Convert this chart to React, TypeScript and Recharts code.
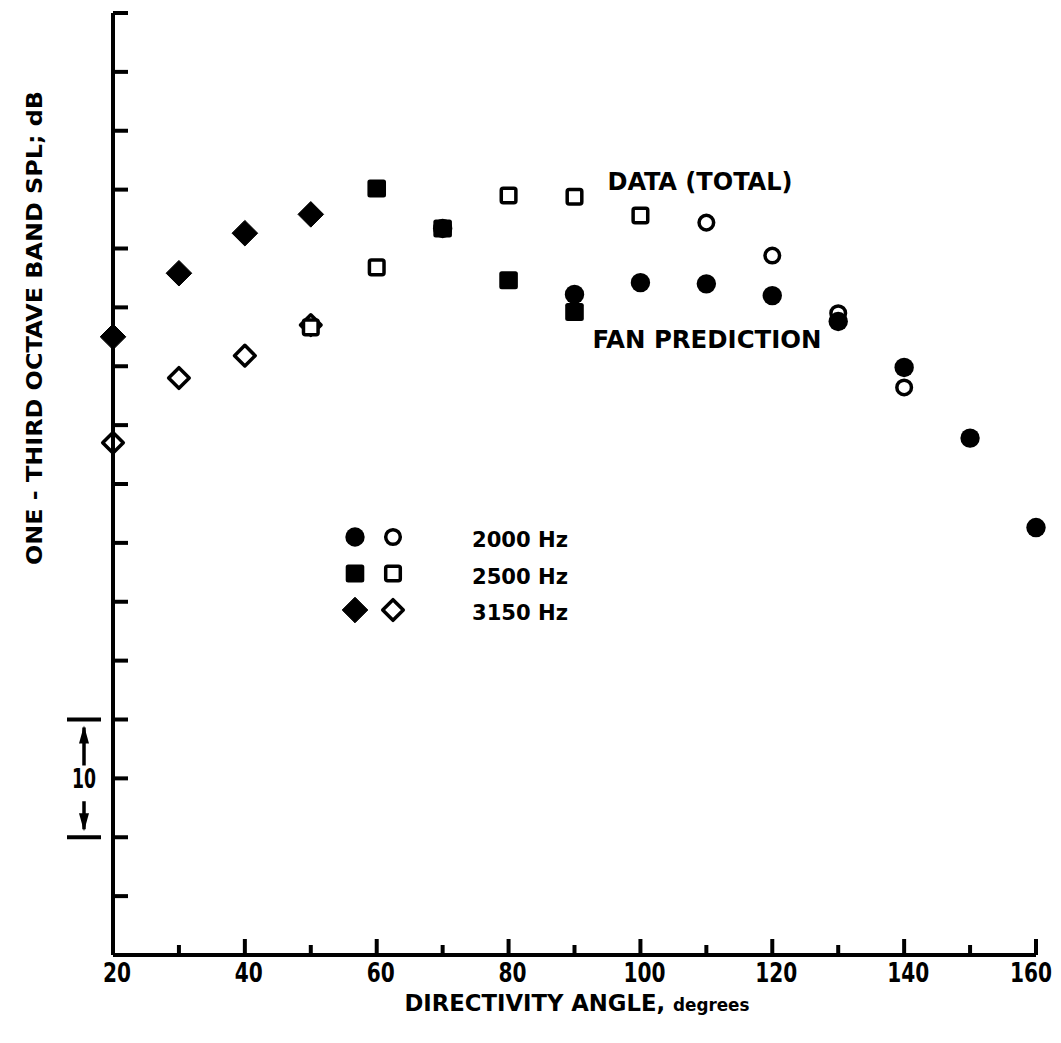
import React from 'react'
import { ScatterChart, Scatter, XAxis, YAxis } from 'recharts'

// directivity angle (deg) and one-third octave band SPL (dB, relative scale)
const fan2000Angles = [70, 90, 100, 110, 120, 130, 140, 150, 160]
const fan2000Spl = [61.7, 56.1, 57.1, 57.0, 56.0, 53.8, 49.9, 43.9, 36.3]
const data2000Angles = [110, 120, 130, 140, 150, 160]
const data2000Spl = [62.2, 59.4, 54.5, 48.2, 43.9, 36.3]

const fan2500Angles = [60, 70, 80, 90]
const fan2500Spl = [65.1, 61.7, 57.3, 54.6]
const data2500Angles = [50, 60, 80, 90, 100]
const data2500Spl = [53.3, 58.4, 64.5, 64.4, 62.8]

const fan3150Angles = [20, 30, 40, 50]
const fan3150Spl = [52.5, 57.9, 61.3, 62.9]
const data3150Angles = [20, 30, 40, 50]
const data3150Spl = [43.5, 49.0, 50.9, 53.5]

const xTicks = [20, 30, 40, 50, 60, 70, 80, 90, 100, 110, 120, 130, 140, 150, 160]
const yTicks = [0, 5, 10, 15, 20, 25, 30, 35, 40, 45, 50, 55, 60, 65, 70, 75, 80]
const legendRows = [
  { label: '2000 Hz', shape: 'circle' },
  { label: '2500 Hz', shape: 'square' },
  { label: '3150 Hz', shape: 'diamond' },
]

const W = 1061
const H = 1043
const PLOT_LEFT = 113
const PLOT_RIGHT = 1036
const PLOT_TOP = 13
const PLOT_BOTTOM = 955
const Y_MAX = 80
const FONT = '"Liberation Sans Narrow", "DejaVu Sans Condensed", "Liberation Sans", Arial, sans-serif'

const toPoints = (xs: number[], ys: number[]) => xs.map((x, i) => ({ x, y: ys[i] }))

function marker(shape: string, filled: boolean, cx: number, cy: number, key?: string) {
  const sw = 3.5
  if (shape === 'circle') {
    return filled
      ? <circle key={key} cx={cx} cy={cy} r={9.7} fill="#000" />
      : <circle key={key} cx={cx} cy={cy} r={7.3} fill="#fff" stroke="#000" strokeWidth={sw} />
  }
  if (shape === 'square') {
    return filled
      ? <rect key={key} x={cx - 9.3} y={cy - 9} width={18.6} height={18} rx={2.5} fill="#000" />
      : <rect key={key} x={cx - 7.3} y={cy - 7.3} width={14.6} height={14.6} rx={2} fill="#fff" stroke="#000" strokeWidth={sw} />
  }
  const r = filled ? 12.8 : 10.3
  const d = `M${cx},${cy - r} L${cx + r},${cy} L${cx},${cy + r} L${cx - r},${cy} Z`
  return filled
    ? <path key={key} d={d} fill="#000" strokeLinejoin="round" stroke="#000" strokeWidth={1} />
    : <path key={key} d={d} fill="none" stroke="#000" strokeWidth={sw} strokeLinejoin="round" />
}

const shapeFor = (shape: string, filled: boolean) => (props: any) => {
  if (props.cx == null || props.cy == null) return <g />
  return marker(shape, filled, props.cx, props.cy)
}

const XTick = (props: any) => {
  const { x, y, payload } = props
  const major = payload.value % 20 === 0
  const first = payload.value === 20
  const len = String(payload.value).length
  return (
    <g>
      {!first && <line x1={x} x2={x} y1={y} y2={y - (major ? 16 : 10)} stroke="#000" strokeWidth={4} />}
      {major && (
        <text
          x={x + (payload.value === 160 ? -5 : 4)}
          y={y + 27}
          textAnchor="middle"
          fontFamily={FONT}
          fontWeight="bold"
          fontSize={26}
          fill="#000"
          textLength={len * 14}
          lengthAdjust="spacingAndGlyphs"
        >
          {payload.value}
        </text>
      )}
    </g>
  )
}

const YTick = (props: any) => {
  const { x, y, payload } = props
  if (payload.value === 0) return <g />
  return <line x1={x} x2={x + 15} y1={y} y2={y} stroke="#000" strokeWidth={4} />
}

const yPix = (v: number) => PLOT_BOTTOM - (v / Y_MAX) * (PLOT_BOTTOM - PLOT_TOP)

export default function App() {
  const barTop = yPix(20)
  const barBottom = yPix(10)
  const bx = 84
  return (
    <div style={{ position: 'absolute', left: 0, top: 0, width: W, height: H, background: '#fff' }}>
      <ScatterChart width={W} height={H} margin={{ top: PLOT_TOP, right: W - PLOT_RIGHT, bottom: 0, left: 0 }}>
        <XAxis
          type="number"
          dataKey="x"
          domain={[20, 160]}
          ticks={xTicks}
          height={H - PLOT_BOTTOM}
          tickSize={0}
          tickMargin={0}
          tickLine={false}
          axisLine={{ stroke: '#000', strokeWidth: 4 }}
          tick={<XTick />}
          interval={0}
          label={{
            content: () => (
              <text
                x={577}
                y={1011}
                textAnchor="middle"
                fontFamily={FONT}
                fontWeight="bold"
                fill="#000"
                textLength={345}
                lengthAdjust="spacingAndGlyphs"
              >
                <tspan fontSize={23}>DIRECTIVITY ANGLE, </tspan>
                <tspan fontSize={17}>degrees</tspan>
              </text>
            ),
          }}
        />
        <YAxis
          type="number"
          dataKey="y"
          domain={[0, Y_MAX]}
          ticks={yTicks}
          width={PLOT_LEFT}
          tickSize={0}
          tickMargin={0}
          tickLine={false}
          axisLine={{ stroke: '#000', strokeWidth: 4 }}
          tick={<YTick />}
          interval={0}
          label={{
            content: () => (
              <text
                x={0}
                y={0}
                transform={`translate(42, ${328}) rotate(-90)`}
                textAnchor="middle"
                fontFamily={FONT}
                fontWeight="bold"
                fontSize={22}
                fill="#000"
                textLength={474}
                lengthAdjust="spacingAndGlyphs"
              >
                ONE - THIRD OCTAVE BAND SPL; dB
              </text>
            ),
          }}
        />
        <Scatter data={toPoints(data3150Angles, data3150Spl)} shape={shapeFor('diamond', false)} isAnimationActive={false} />
        <Scatter data={toPoints(data2500Angles, data2500Spl)} shape={shapeFor('square', false)} isAnimationActive={false} />
        <Scatter data={toPoints(data2000Angles, data2000Spl)} shape={shapeFor('circle', false)} isAnimationActive={false} />
        <Scatter data={toPoints(fan3150Angles, fan3150Spl)} shape={shapeFor('diamond', true)} isAnimationActive={false} />
        <Scatter data={toPoints(fan2500Angles, fan2500Spl)} shape={shapeFor('square', true)} isAnimationActive={false} />
        <Scatter data={toPoints(fan2000Angles, fan2000Spl)} shape={shapeFor('circle', true)} isAnimationActive={false} />
      </ScatterChart>
      <svg width={W} height={H} style={{ position: 'absolute', left: 0, top: 0, pointerEvents: 'none' }}>
        <text x={700} y={190} textAnchor="middle" fontFamily={FONT} fontWeight="bold" fontSize={24} fill="#000" textLength={185} lengthAdjust="spacingAndGlyphs">
          DATA (TOTAL)
        </text>
        <text x={707} y={348} textAnchor="middle" fontFamily={FONT} fontWeight="bold" fontSize={24} fill="#000" textLength={229} lengthAdjust="spacingAndGlyphs">
          FAN PREDICTION
        </text>
        {/* legend */}
        {legendRows.map((row, i) => {
          const cy = 537 + i * 36.5
          return (
            <g key={row.label}>
              {marker(row.shape, true, 355, cy, 'f')}
              {marker(row.shape, false, 393, cy, 'o')}
              <text x={472} y={cy + 10} fontFamily={FONT} fontWeight="bold" fontSize={22} fill="#000" textLength={96} lengthAdjust="spacingAndGlyphs">
                {row.label}
              </text>
            </g>
          )
        })}
        {/* 10 dB scale bar */}
        <line x1={bx - 17} x2={bx + 17} y1={barTop} y2={barTop} stroke="#000" strokeWidth={4} />
        <line x1={bx - 17} x2={bx + 17} y1={barBottom} y2={barBottom} stroke="#000" strokeWidth={4} />
        <line x1={bx} x2={bx} y1={barTop + 8} y2={barTop + 46} stroke="#000" strokeWidth={3.5} />
        <path d={`M${bx - 5},${barTop + 24} L${bx},${barTop + 6} L${bx + 5},${barTop + 24} Z`} fill="#000" />
        <line x1={bx} x2={bx} y1={barBottom - 36} y2={barBottom - 8} stroke="#000" strokeWidth={3.5} />
        <path d={`M${bx - 5},${barBottom - 24} L${bx},${barBottom - 6} L${bx + 5},${barBottom - 24} Z`} fill="#000" />
        <text x={bx} y={(barTop + barBottom) / 2 + 10} textAnchor="middle" fontFamily={FONT} fontWeight="bold" fontSize={26} fill="#000" textLength={24} lengthAdjust="spacingAndGlyphs">
          10
        </text>
      </svg>
    </div>
  )
}
